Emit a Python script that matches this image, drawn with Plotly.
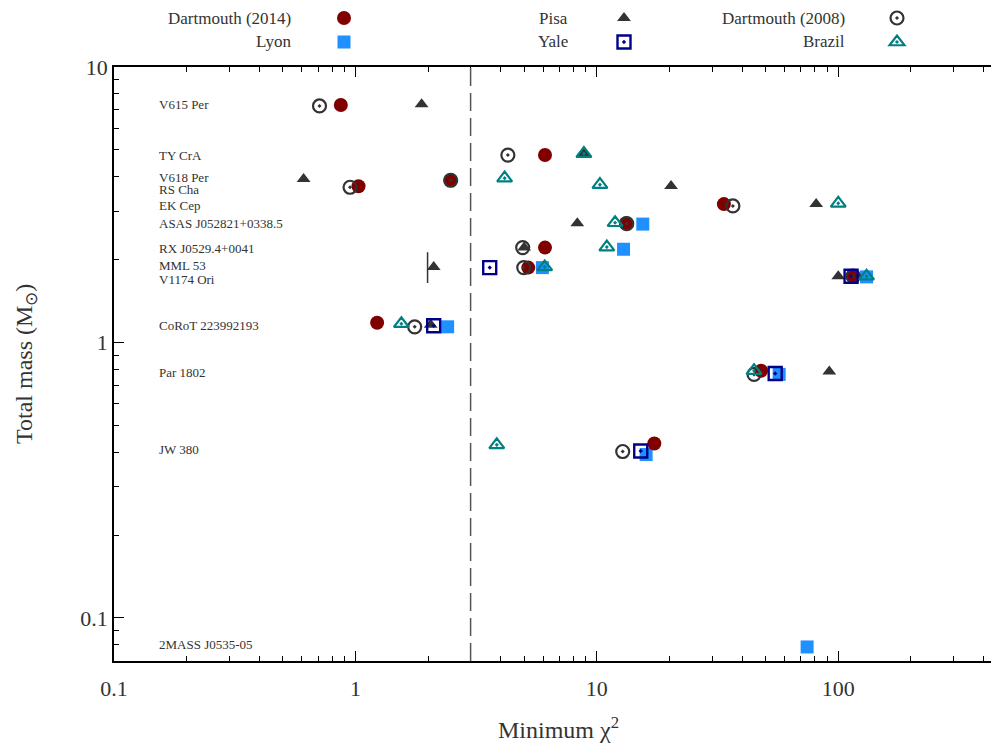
import math
import plotly.graph_objects as go

# ---------------- data ----------------
stars = ["V615 Per", "TY CrA", "V618 Per", "RS Cha", "EK Cep", "ASAS J052821+0338.5",
         "RX J0529.4+0041", "MML 53", "V1174 Ori", "CoRoT 223992193", "Par 1802",
         "JW 380", "2MASS J0535-05"]
star_label_mass = [7.28, 4.79, 3.98, 3.6, 3.15, 2.71, 2.2, 1.91, 1.69, 1.15, 0.778, 0.408, 0.0798]

# Dartmouth (2014)
d14_star = ["V615 Per", "TY CrA", "V618 Per", "RS Cha", "EK Cep", "ASAS J052821+0338.5",
            "RX J0529.4+0041", "MML 53", "V1174 Ori", "CoRoT 223992193", "Par 1802", "JW 380"]
d14_chi2 = [0.87, 6.1, 2.48, 1.03, 33.6, 13.2, 6.1, 5.2, 116, 1.23, 47.9, 17.3]
d14_mass = [7.28, 4.79, 3.88, 3.69, 3.18, 2.71, 2.21, 1.87, 1.74, 1.18, 0.79, 0.43]

# Pisa
pisa_star = ["V615 Per", "TY CrA", "V618 Per", "RS Cha", "EK Cep", "ASAS J052821+0338.5",
             "RX J0529.4+0041", "MML 53", "V1174 Ori", "CoRoT 223992193", "Par 1802"]
pisa_chi2 = [1.88, 8.84, 0.61, 20.3, 81, 8.3, 5.0, 2.11, 100, 2.05, 91.8]
pisa_mass = [7.33, 4.85, 3.92, 3.70, 3.18, 2.71, 2.21, 1.88, 1.74, 1.16, 0.785]

# Pisa MML 53 vertical bar
pisa_bar_chi2 = [1.99]
pisa_bar_mass = [1.87]

# Dartmouth (2008)
d08_star = ["V615 Per", "TY CrA", "V618 Per", "RS Cha", "EK Cep", "ASAS J052821+0338.5",
            "RX J0529.4+0041", "MML 53", "V1174 Ori", "CoRoT 223992193", "Par 1802", "JW 380"]
d08_chi2 = [0.71, 4.28, 2.48, 0.95, 36.6, 13.3, 4.93, 4.98, 115, 1.76, 44.8, 12.8]
d08_mass = [7.22, 4.79, 3.88, 3.66, 3.13, 2.70, 2.21, 1.87, 1.74, 1.14, 0.766, 0.402]

# Lyon
lyon_star = ["ASAS J052821+0338.5", "RX J0529.4+0041", "MML 53", "V1174 Ori",
             "CoRoT 223992193", "Par 1802", "JW 380", "2MASS J0535-05"]
lyon_chi2 = [15.5, 12.9, 5.95, 131, 2.41, 56.9, 16.0, 74.3]
lyon_mass = [2.69, 2.18, 1.87, 1.73, 1.14, 0.766, 0.392, 0.0785]

# Yale
yale_star = ["MML 53", "V1174 Ori", "CoRoT 223992193", "Par 1802", "JW 380"]
yale_chi2 = [3.6, 113, 2.11, 54.8, 15.2]
yale_mass = [1.87, 1.74, 1.15, 0.772, 0.404]

# Brazil
braz_star = ["TY CrA", "V618 Per", "RS Cha", "EK Cep", "ASAS J052821+0338.5",
             "RX J0529.4+0041", "MML 53", "V1174 Ori", "CoRoT 223992193", "Par 1802", "JW 380"]
braz_chi2 = [8.84, 4.15, 10.3, 100, 11.9, 11.0, 6.08, 131, 1.55, 44.8, 3.85]
braz_mass = [4.85, 3.95, 3.74, 3.20, 2.72, 2.22, 1.88, 1.74, 1.17, 0.79, 0.425]

chi2_threshold = 3
x_range = [0.1, 500]
y_range = [0.0698, 10]

# ---------------- figure ----------------
SERIF = "Liberation Serif"
OFF = 8                      # page body margin in the browser
W, H = 999, 743 - OFF
ML, MR, MT, MB = 114 - OFF, 0, 67 - OFF, 82
PW, PH = W - ML - MR, H - MT - MB


def px2paper_x(px):
    return (px - OFF - ML) / PW


def px2paper_y(py):
    return (H - MB - (py - OFF)) / PH


# legend layout: (legend id, text, marker x px, row y px, text right px)
leg_rows_y = [18, 42]
leg_slots = {
    "Dartmouth (2014)": ("legend", 345, 0, 293),
    "Pisa": ("legend2", 625, 0, 570),
    "Dartmouth (2008)": ("legend3", 898, 0, 847),
    "Lyon": ("legend4", 345, 1, 293),
    "Yale": ("legend5", 625, 1, 570),
    "Brazil": ("legend6", 898, 1, 847),
}

fig = go.Figure()


def add(name, xs, ys, names, symbol, size, color, lw):
    fig.add_trace(go.Scatter(
        x=xs, y=ys, mode="markers", name=" ", text=names,
        hovertemplate=name + "<br>%{text}<br>χ²=%{x}<br>M=%{y}<extra></extra>",
        marker=dict(symbol=symbol, size=size, color=color,
                    line=dict(color=color, width=lw)),
        legend=leg_slots[name][0], showlegend=True))


add("Lyon", lyon_chi2, lyon_mass, lyon_star, "square", 13, "#1E90FF", 0)
add("Dartmouth (2014)", d14_chi2, d14_mass, d14_star, "circle", 14, "#800000", 0)
add("Pisa", pisa_chi2, pisa_mass, pisa_star, "triangle-up", 12, "#333333", 0)
fig.add_trace(go.Scatter(x=pisa_bar_chi2, y=pisa_bar_mass, mode="markers", showlegend=False,
                         hoverinfo="skip",
                         marker=dict(symbol="line-ns-open", size=22, color="#333333",
                                     line=dict(color="#333333", width=1.5))))
add("Dartmouth (2008)", d08_chi2, d08_mass, d08_star, "circle-open-dot", 13, "#333333", 2.2)
add("Yale", yale_chi2, yale_mass, yale_star, "square-open-dot", 13, "#00008B", 2.4)
add("Brazil", braz_chi2, braz_mass, braz_star, "triangle-up-open-dot", 13, "#008080", 2.2)

# star labels
for s, m in zip(stars, star_label_mass):
    fig.add_annotation(x=px2paper_x(157), xref="paper", y=math.log10(m), yref="y",
                       text=s, showarrow=False, xanchor="left", yanchor="middle",
                       font=dict(family=SERIF, size=13, color="#333333"))

# threshold line
fig.add_shape(type="line", x0=chi2_threshold, x1=chi2_threshold, xref="x", y0=0, y1=1, yref="paper",
              line=dict(color="#555555", width=1.5, dash="18px,7px"))

# legend text (right aligned, left of markers) and legend boxes
legend_common = dict(xref="container", yref="container", xanchor="left", yanchor="middle",
                     bgcolor="rgba(0,0,0,0)", font=dict(family=SERIF, size=11),
                     orientation="v", tracegroupgap=0, itemwidth=30)
for t, (lid, mx, row, xr) in leg_slots.items():
    py = leg_rows_y[row]
    fig.add_annotation(x=px2paper_x(xr), xref="paper", y=px2paper_y(py), yref="paper",
                       text=t, showarrow=False, xanchor="right", yanchor="middle",
                       font=dict(family=SERIF, size=17, color="#333333"))
    fig.update_layout({lid: dict(x=(mx - OFF - 21) / W, y=1 - (py - OFF) / H, **legend_common)})

# axis titles
fig.add_annotation(x=px2paper_x(558), xref="paper", y=px2paper_y(728), yref="paper",
                   text="Minimum χ<sup>2</sup>", showarrow=False, xanchor="center", yanchor="middle",
                   font=dict(family=SERIF, size=24, color="#333333"))
fig.add_annotation(x=px2paper_x(26), xref="paper", y=px2paper_y(364), yref="paper",
                   text="Total mass (M<sub>⊙</sub>)", showarrow=False, textangle=-90,
                   xanchor="center", yanchor="middle",
                   font=dict(family=SERIF, size=24, color="#333333"))

minor_vals = []
for dec in [0.01, 0.1, 1, 10, 100, 1000]:
    for k in range(2, 10):
        minor_vals.append(dec * k)

axis_common = dict(type="log", showgrid=False, zeroline=False, showline=True, linecolor="black",
                   linewidth=1.6, mirror="ticks", ticks="inside", ticklen=10, tickwidth=1.3,
                   tickcolor="black",
                   tickfont=dict(family=SERIF, size=22, color="#333333"),
                   minor=dict(ticks="inside", ticklen=5, tickwidth=1.1, tickcolor="black",
                              tickmode="array", tickvals=minor_vals, showgrid=False))

fig.update_xaxes(range=[math.log10(v) for v in x_range], tickmode="array", tickvals=[0.1, 1, 10, 100],
                 ticktext=["0.1", "1", "10", "100"], ticklabelstandoff=7,
                 **axis_common)
fig.update_yaxes(range=[math.log10(v) for v in y_range], tickmode="array", tickvals=[0.1, 1, 10],
                 ticktext=["0.1", "1", "10"],
                 **axis_common)

fig.update_layout(width=W, height=H, plot_bgcolor="white", paper_bgcolor="white",
                  margin=dict(l=ML, r=MR, t=MT, b=MB, autoexpand=False), hovermode="closest")

fig.write_html("out.html")
